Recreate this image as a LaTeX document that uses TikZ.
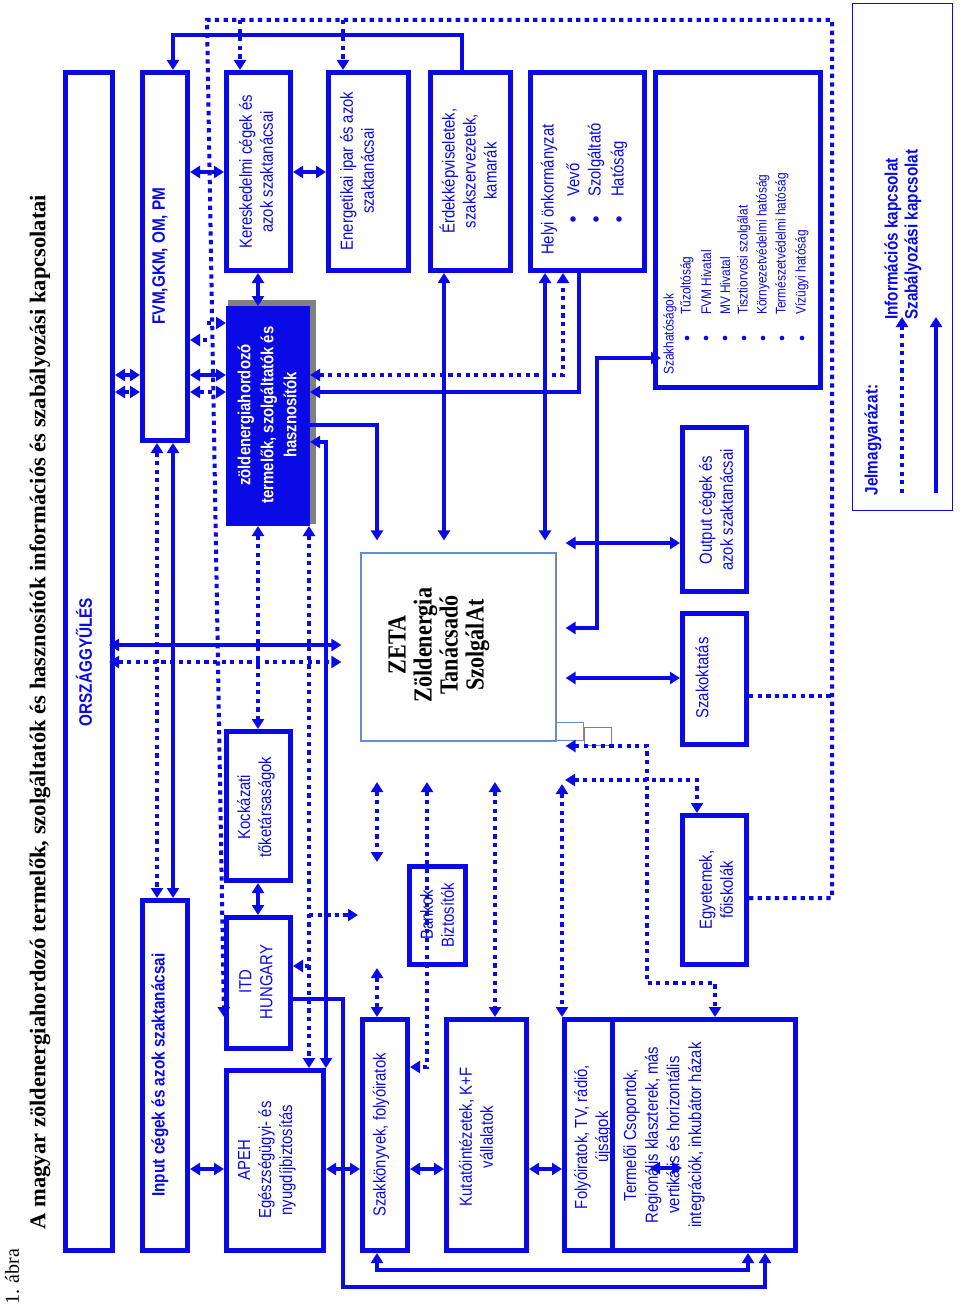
\documentclass[tikz,border=0pt]{standalone}
\usepackage{fontspec}
\usetikzlibrary{arrows.meta,calc}
\newfontfamily\sfn{Liberation Sans}[FakeStretch=0.85]
\newfontfamily\srf{Liberation Serif}[FakeStretch=0.85]
\newfontfamily\srt{Liberation Serif}
\definecolor{bl}{RGB}{10,10,230}
\definecolor{zb}{RGB}{100,140,215}
\definecolor{shd}{RGB}{128,128,128}
\tikzset{
 box/.style={draw=bl, line width=5pt, fill=white, inner sep=0pt},
 sl/.style={draw=bl, line width=4pt},
 dl/.style={draw=bl, line width=4pt, dash pattern=on 4.3pt off 4.3pt},
 tx/.style={text=bl, font=\sfn\fontsize{17.5}{21}\selectfont, rotate=90, align=center, inner sep=0pt},
 bt/.style={text=bl, font=\sfn\bfseries\fontsize{18}{22}\selectfont, rotate=90, inner sep=0pt},
 st/.style={text=bl, font=\sfn\fontsize{14}{16}\selectfont, rotate=90, anchor=west, inner sep=0pt},
 >={Triangle[length=10pt,width=12pt]},
}
\newcommand{\mybox}[6][]{\node[box,#1,minimum width={(#5-#3-5)*1pt},minimum height={(#6-#4-5)*1pt}] (#2) at ({(#3+#5)/2},{(#4+#6)/2}) {};}
\begin{document}
\begin{tikzpicture}[x=1pt,y=-1pt]
\useasboundingbox (0,0) rectangle (960,1306);
% title
\node[rotate=90, font=\srt\bfseries\fontsize{22.5}{26}\selectfont, inner sep=0pt] (title) at (40,712) {A magyar zöldenergiahordozó termelők, szolgáltatók és hasznosítók információs és szabályozási kapcsolatai};
\node[rotate=90, anchor=west, font=\srt\fontsize{20}{24}\selectfont, inner sep=0pt] (abra) at (12,1305) {1. ábra};
% boxes
\mybox{orsz}{63}{70}{115}{1253}
\mybox{fvm}{140}{70}{190}{443}
\mybox{inp}{140}{898}{190}{1253}
\mybox{kere}{224}{70}{293}{273}
\mybox{ener}{326}{70}{411}{273}
\mybox{erd}{428}{70}{513}{273}
\mybox{helyi}{528}{70}{647}{273}
\mybox{szakh}{653}{70}{823}{390}
\node[draw=bl, line width=1.5pt, minimum width=100pt, minimum height=507pt, inner sep=0pt] (legend) at (902.5,257) {};
\fill[shd] (228,300) rectangle (316,524);
\mybox[fill=bl,line width=1pt]{green}{224}{304}{312}{528}
\node[draw=zb, line width=1.2pt, fill=white, minimum width=195pt, minimum height=188pt, inner sep=0pt] (zeta) at (458.5,647) {};
\draw[shd, line width=1.2pt] (zeta.north east) -- (zeta.south east);
\draw[zb, line width=1pt] (556,722) rectangle (583,740);
\draw[shd, line width=1pt] (584,727) rectangle (611,745);
\mybox{out}{680}{425}{749}{594}
\mybox{szako}{680}{611}{749}{747}
\mybox{egy}{680}{813}{749}{967}
\mybox{kock}{224}{729}{293}{883}
\mybox{itd}{224}{915}{293}{1051}
\mybox{apeh}{224}{1068}{326}{1253}
\mybox{szakk}{360}{1017}{410}{1253}
\mybox{bank}{407}{864}{468}{967}
\mybox{kut}{444}{1017}{529}{1253}
\mybox{term}{610}{1017}{798}{1253}
\mybox[fill=none]{foly}{562}{1017}{615}{1253}
% texts
\node[bt] (orszT) at (84,662) {ORSZÁGGYŰLÉS};
\node[bt] (fvmT) at (160,256) {FVM,GKM, OM, PM};
\node[bt] (inpT) at (160,1075) {Input cégek és azok szaktanácsai};
\node[tx] (kereT) at (256,172) {Kereskedelmi cégek és\\azok szaktanácsai};
\node[tx] (enerT) at (357,171) {Energetikai ipar és azok\\szaktanácsai};
\node[tx] (erdT) at (468,171) {Érdekképviseletek,\\szakszervezetek,\\kamarák};
\node[tx,anchor=west] (helyiT) at (549,255) {Helyi önkormányzat};
\node[tx,anchor=west] (h1) at (573,197) {Vevő};
\node[tx,anchor=west] (h2) at (596,197) {Szolgáltató};
\node[tx,anchor=west] (h3) at (619,197) {Hatóság};
\foreach \xx in {573,596,619} \fill[bl] (\xx,219) circle (2.8);
\node[st] (szakhT) at (670,375) {Szakhatóságok};
\node[st] (s1) at (687,315) {Tűzoltóság};
\node[st] (s2) at (706,315) {FVM Hivatal};
\node[st] (s3) at (725,315) {MV Hivatal};
\node[st] (s4) at (744,315) {Tisztiorvosi szolgálat};
\node[st] (s5) at (763,315) {Környezetvédelmi hatóság};
\node[st] (s6) at (782,315) {Természetvédelmi hatóság};
\node[st] (s7) at (802,315) {Vízügyi hatóság};
\foreach \xx in {687,706,725,744,763,782,802} \fill[bl] (\xx,338) circle (2.3);
\node[tx,text=white,font=\sfn\bfseries\fontsize{17.5}{23}\selectfont] (greenT) at (267,415) {zöldenergiahordozó\\termelők, szolgáltatók és\\hasznosítók};
\node[rotate=90, align=center, inner sep=0pt, font=\srf\bfseries\fontsize{26}{26}\selectfont] (zetaT) at (439,645) {ZETA\\Zöldenergia\\Tanácsadó\\SzolgálAt};
\node[tx] (outT) at (716,510) {Output cégek és\\azok szaktanácsai};
\node[tx] (szakoT) at (702,678) {Szakoktatás};
\node[tx] (egyT) at (716,890) {Egyetemek,\\főiskolák};
\node[tx] (kockT) at (256,807) {Kockázati\\tőketársaságok};
\node[tx] (itdT) at (256,982) {ITD\\HUNGARY};
\node[tx] (apehT) at (267,1160) {APEH\\Egészségügyi- és\\nyugdíjbiztosítás};
\node[tx] (szakkT) at (381,1135) {Szakkönyvek, folyóiratok};
\node[tx] (bankT) at (437,915) {Bankok\\Biztosítók};
\node[tx] (kutT) at (476,1137) {Kutatóintézetek, K+F\\vállalatok};
\node[tx] (folyT) at (593,1137) {Folyóiratok, TV, rádió,\\újságok};
\node[tx,font=\sfn\fontsize{17.5}{21.7}\selectfont] (termT) at (664,1135) {Termelői Csoportok,\\Regionális klaszterek, más\\vertikális és horizontális\\integrációk, inkubátor házak};
\node[bt] (jelT) at (873,440) {Jelmagyarázat:};
\node[bt,anchor=west] (infT) at (893,320) {Információs kapcsolat};
\node[bt,anchor=west] (szabT) at (913,320) {Szabályozási kapcsolat};
% coordinates
\coordinate (c1) at (207,20);
\coordinate (c2) at (832,20);
\coordinate (c3) at (832,898);
\coordinate (lg1) at (902,493); \coordinate (lg2) at (902,317);
\coordinate (lg3) at (936,493); \coordinate (lg4) at (936,317);
% connectors
\draw[dl,->] (egy.east |- 0,898) -- (c3) -- (c2) -- (c1) -- (itd.west |- 0,1017);
\draw[dl,->] (c1 -| 240,0) -- (kere.north -| 240,0);
\draw[dl,->] (c1 -| 343,0) -- (ener.north -| 343,0);
\draw[dl,->] (c1 |- 0,323) -- (green.west |- 0,323);
\draw[dl,->] (c1 |- 0,340) -- (fvm.east |- 0,340);
\draw[dl] (szako.east |- 0,696) -- (c2 |- 0,696);
\draw[sl,->] (erd.north -| 462,0) -- (462,35) -- (173,35) -- (fvm.north -| 173,0);
\draw[sl,<->] (fvm.east |- 0,172) -- (kere.west |- 0,172);
\draw[sl,<->] (kere.east |- 0,172) -- (ener.west |- 0,172);
\draw[sl,<->] (kere.south -| 258,0) -- (green.north -| 258,0);
\draw[sl,<->] (orsz.east |- 0,375) -- (fvm.west |- 0,375);
\draw[dl,<->] (orsz.east |- 0,392) -- (fvm.west |- 0,392);
\draw[sl,<->] (fvm.east |- 0,375) -- (green.west |- 0,375);
\draw[dl,<->] (fvm.east |- 0,392) -- (green.west |- 0,392);
\draw[dl,<->] (green.east |- 0,375) -- (563,375) -- (helyi.south -| 563,0);
\draw[sl,->] (helyi.south -| 579,0) -- (579,392) -- (green.east |- 0,392);
\draw[sl,<->,shorten >=12pt] (helyi.south -| 545,0) -- (zeta.north -| 545,0);
\draw[sl,<->,shorten >=12pt] (erd.south -| 444,0) -- (zeta.north -| 444,0);
\draw[sl,->,shorten >=12pt] (green.east |- 0,425) -- (377,425) -- (zeta.north -| 377,0);
\draw[sl,<->] (green.east |- 0,442) -- (326,442) -- (apeh.north -| 326,0);
\draw[dl,<->] (green.south -| 309,0) -- (apeh.north -| 309,0);
\draw[sl,<->] (fvm.south -| 173,0) -- (inp.north -| 173,0);
\draw[dl,<->] (fvm.south -| 157,0) -- (inp.north -| 157,0);
\draw[sl,<->,shorten >=19pt,shorten <=-6pt] (orsz.east |- 0,645) -- (zeta.west |- 0,645);
\draw[dl,<->,shorten >=19pt,shorten <=-6pt] (orsz.east |- 0,662) -- (zeta.west |- 0,662);
\draw[dl,<->] (green.south -| 258,0) -- (kock.north -| 258,0);
\draw[sl,<->] (kock.south -| 258,0) -- (itd.north -| 258,0);
\coordinate (d1) at (309,915); \coordinate (d2) at (358,915);
\draw[dl,->] (d1) -- (d2);
\draw[dl,->] (309,966) -- (itd.east |- 0,966);
\draw[sl,->] (itd.east |- 0,999) -- (343,999) -- (343,1287) -- (765,1287) -- (term.south -| 765,0);
\draw[sl,<->] (szakk.south -| 377,0) -- (377,1270) -- (748,1270) -- (term.south -| 748,0);
\draw[sl,<->] (inp.east |- 0,1169) -- (apeh.west |- 0,1169);
\draw[sl,<->] (apeh.east |- 0,1169) -- (szakk.west |- 0,1169);
\draw[sl,<->] (szakk.east |- 0,1169) -- (kut.west |- 0,1169);
\draw[sl,<->] (kut.east |- 0,1169) -- (foly.west |- 0,1169);
\coordinate (t1) at (650,1168); \coordinate (t2) at (682,1168);
\draw[sl,<->] (t1) -- (t2);
\coordinate (f1) at (377,782); \coordinate (f2) at (377,862);
\draw[dl,<->] (f1) -- (f2);
\draw[dl,<->] (377,968) -- (szakk.north -| 377,0);
\draw[dl,<->] (427,782) -- (427,1067) -- (szakk.east |- 0,1067);
\draw[dl,<->] (495,782) -- (kut.north -| 495,0);
\draw[dl,<->] (562,784) -- (foly.north -| 562,0);
\draw[dl,<->] (565,780) -- (697,780) -- (egy.north -| 697,0);
\draw[dl,<->,shorten <=9pt] (zeta.east |- 0,746) -- (647,746) -- (647,983) -- (715,983) -- (term.north -| 715,0);
\draw[sl,<->,shorten <=9pt] (zeta.east |- 0,543) -- (out.west |- 0,543);
\draw[sl,<->,shorten <=9pt,shorten >=-8pt] (zeta.east |- 0,628) -- (597,628) -- (597,358) -- (szakh.west |- 0,358);
\draw[sl,<->,shorten <=9pt] (zeta.east |- 0,678) -- (szako.west |- 0,678);
\draw[dl,->] (lg1) -- (lg2);
\draw[sl,->] (lg3) -- (lg4);
\end{tikzpicture}
\end{document}
